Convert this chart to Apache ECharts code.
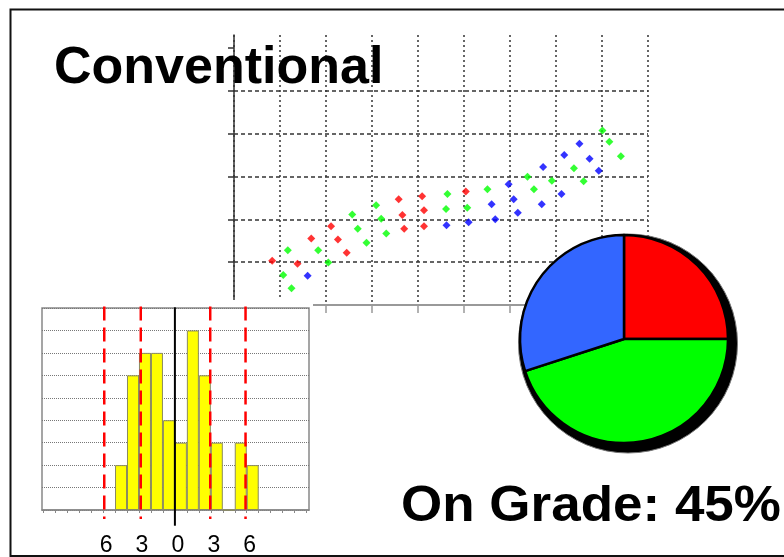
<!DOCTYPE html>
<html>
<head>
<meta charset="utf-8">
<script src="https://cdn.jsdelivr.net/npm/echarts@6.0.0/dist/echarts.min.js"></script>
<style>
  html, body { margin: 0; padding: 0; background: #fff; }
  #chart { width: 784px; height: 557px; }
</style>
</head>
<body>
<div id="chart"></div>
<script>
// Scatter: three process streams, [time, value]
const redPoints = [[0.83,1.03],[1.38,0.96],[1.68,1.55],[2.11,1.84],[2.26,1.53],[2.45,1.22],[3.58,2.47],[3.66,2.10],[3.70,1.78],[4.09,2.54],[4.13,2.21],[4.13,1.84],[5.04,2.65]];
const greenPoints = [[1.17,1.28],[1.07,0.70],[1.25,0.39],[1.83,1.28],[2.05,0.99],[2.57,2.11],[2.69,1.78],[2.88,1.45],[3.09,2.33],[3.20,2.01],[3.31,1.67],[4.64,2.59],[4.61,2.24],[5.07,2.27],[5.51,2.70],[6.38,2.99],[6.52,2.70],[6.91,2.90],[7.39,3.19],[7.60,2.89],[8.01,4.07],[8.16,3.81],[8.41,3.47]];
const bluePoints = [[1.60,0.68],[4.62,1.86],[5.10,1.93],[5.60,2.35],[5.68,2.00],[5.97,2.82],[6.08,2.47],[6.17,2.15],[6.69,2.35],[6.72,3.22],[7.12,2.59],[7.18,3.50],[7.51,3.76],[7.73,3.41],[7.93,3.13]];
const scatterYTicks = [0, 1, 2, 3, 4, 5, 6];

// Histogram of deviations: one-unit bins, each starting at binStarts[i]
const binStarts = [-5, -4, -3, -2, -1, 0, 1, 2, 3, 4, 5, 6];
const binCounts = [2, 6, 7, 7, 4, 3, 8, 6, 3, 0, 3, 2];
const limitLines = [-5.9, -2.85, 2.95, 5.9];
const histTickLabels = [-6, -3, 0, 3, 6];
const histMinorTicks = [-11,-10,-9,-8,-7,-6,-5,-4,-3,-2,-1,0,1,2,3,4,5,6,7,8,9,10,11];

// Grade split
const gradeNames = ['High', 'On Grade', 'Low'];
const gradeShares = [25, 45, 30];
const gradeColors = ['#ff0000', '#00ff00', '#3366ff'];

const FONT = '"Liberation Sans", Arial, Helvetica, sans-serif';

const chart = echarts.init(document.getElementById('chart'), null, { renderer: 'canvas' });

function diamondSeries(points, color) {
  return {
    type: 'scatter', xAxisIndex: 0, yAxisIndex: 0,
    data: points, symbol: 'diamond', symbolSize: 8,
    itemStyle: { color: color }, z: 2, silent: true
  };
}

const limitSeries = limitLines.map(v => ({
  type: 'line', xAxisIndex: 1, yAxisIndex: 1,
  data: [[v, 9.07], [v, -0.4]],
  symbol: 'none', clip: false, silent: true,
  lineStyle: { color: '#ff0000', width: 2.5, type: [14, 7] },
  z: 7
}));

const option = {
  animation: false,
  backgroundColor: '#fff',
  grid: [
    { left: 234, top: 35, width: 414, height: 270, z: 0 },
    { left: 42, top: 308, width: 267, height: 203, show: true,
      backgroundColor: '#fff', borderColor: '#888', borderWidth: 1.5, z: 4 }
  ],
  xAxis: [
    { type: 'value', gridIndex: 0, min: 0, max: 9, interval: 1, z: 0,
      axisLine: { show: true, lineStyle: { color: '#999', width: 2 } },
      axisTick: { show: true, length: 8, lineStyle: { color: '#999', width: 1.5 } },
      axisLabel: { show: false },
      splitLine: { show: true, lineStyle: { color: '#333', width: 1.5, type: [2, 3] } } },
    { type: 'value', gridIndex: 1, min: -11.1, max: 11.2, z: 5,
      axisLine: { show: true, onZero: false, lineStyle: { color: '#888', width: 1.5 } },
      axisTick: { show: true, length: 3, customValues: histMinorTicks, lineStyle: { color: '#888', width: 1 } },
      axisLabel: { show: true, customValues: histTickLabels, formatter: v => String(Math.abs(v)),
        fontSize: 23, color: '#000', fontFamily: FONT, margin: 24, padding: [0, 0, 0, 6] },
      splitLine: { show: false } }
  ],
  yAxis: [
    { type: 'value', gridIndex: 0, min: 0, max: 6.3, z: 0,
      axisLine: { show: true, lineStyle: { color: '#333', width: 1.5 } },
      axisTick: { show: true, length: 6, customValues: scatterYTicks, lineStyle: { color: '#333', width: 1.5 } },
      axisLabel: { show: false },
      splitLine: { show: true, showMaxLine: false, lineStyle: { color: '#333', width: 1.5, type: [4, 3] } } },
    { type: 'value', gridIndex: 1, min: 0, max: 9, interval: 1, z: 5,
      axisLine: { show: false }, axisTick: { show: false }, axisLabel: { show: false },
      splitLine: { show: true, lineStyle: { color: '#777', width: 1, type: 'dotted' } } }
  ],
  series: [
    diamondSeries(redPoints, '#ff0000'),
    diamondSeries(greenPoints, '#00ff00'),
    diamondSeries(bluePoints, '#0000ff'),
    {
      type: 'bar', xAxisIndex: 1, yAxisIndex: 1,
      data: binStarts.map((s, i) => [s + 0.5, binCounts[i]]),
      barWidth: 12, silent: true,
      itemStyle: { color: '#ffff00', borderColor: '#8a8a60', borderWidth: 1 },
      z: 6
    },
    {
      type: 'line', xAxisIndex: 1, yAxisIndex: 1,
      data: [[0, 9.03], [0, -0.7]],
      symbol: 'none', clip: false, silent: true,
      lineStyle: { color: '#000', width: 2 }, z: 8
    },
    ...limitSeries,
    {
      // drop shadow beneath the grade pie
      type: 'pie', center: [628, 343.5], radius: 109.5, silent: true,
      data: [{ value: 1, name: 'shadow' }],
      itemStyle: { color: '#000', borderColor: '#777', borderWidth: 1 },
      label: { show: false }, labelLine: { show: false }, z: 9
    },
    {
      type: 'pie', center: [624, 339], radius: 104, startAngle: 90, clockwise: true, silent: true,
      data: gradeNames.map((n, i) => ({ name: n, value: gradeShares[i], itemStyle: { color: gradeColors[i] } })),
      itemStyle: { borderColor: '#000', borderWidth: 2.5 },
      label: { show: false }, labelLine: { show: false }, z: 10
    }
  ],
  graphic: [
    { type: 'rect', shape: { x: 220, y: 300, width: 93, height: 12 }, style: { fill: '#fff' }, z: 3, silent: true },
    { type: 'text', x: 54, y: 69, z: 20, silent: true,
      style: { text: 'Conventional', fontSize: 52, fontWeight: 'bold', fontFamily: FONT, fill: '#000', verticalAlign: 'middle' } },
    { type: 'text', x: 401, y: 507.5, scaleX: 1.06, z: 20, silent: true,
      style: { text: 'On Grade: 45%', fontSize: 50, fontWeight: 'bold', fontFamily: FONT, fill: '#000', verticalAlign: 'middle' } },
    { type: 'rect', shape: { x: 10.5, y: 9.5, width: 800, height: 546.5 },
      style: { fill: 'none', stroke: '#111', lineWidth: 2 }, z: 20, silent: true }
  ]
};

chart.setOption(option);
</script>
</body>
</html>
